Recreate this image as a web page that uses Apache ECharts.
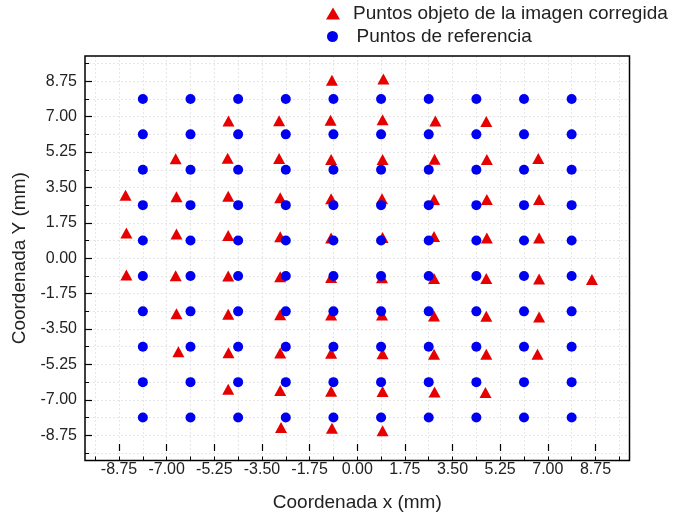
<!DOCTYPE html>
<html>
<head>
<meta charset="utf-8">
<script src="https://cdn.jsdelivr.net/npm/echarts@6/dist/echarts.min.js"></script>
<style>
html,body{margin:0;padding:0;background:#fff;}
#c{width:675px;height:517px;}
</style>
</head>
<body>
<div id="c"></div>
<script>
// ---- Data ----
const seriesNames = ['Puntos objeto de la imagen corregida', 'Puntos de referencia'];
const tickLabels = ['-8.75', '-7.00', '-5.25', '-3.50', '-1.75', '0.00', '1.75', '3.50', '5.25', '7.00', '8.75'];

// Reference points: grid columns (x) and rows (y)
const refCols = [-7.875, -6.125, -4.375, -2.625, -0.875, 0.875, 2.625, 4.375, 6.125, 7.875];
const refRows = [7.875, 6.125, 4.375, 2.625, 0.875, -0.875, -2.625, -4.375, -6.125, -7.875];

// Corrected image points (triangles)
const corrX = [
  -0.93, 0.96,
  -4.73, -2.87, -0.98, 0.93, 2.87, 4.74,
  -6.67, -4.76, -2.87, -0.96, 0.93, 2.84, 4.76, 6.65,
  -8.51, -6.64, -4.74, -2.83, -0.96, 0.91, 2.82, 4.76, 6.68,
  -8.48, -6.64, -4.74, -2.83, -0.96, 0.93, 2.82, 4.76, 6.68,
  -8.48, -6.67, -4.74, -2.83, -0.96, 0.91, 2.82, 4.74, 6.68, 8.62,
  -6.64, -4.74, -2.83, -0.96, 0.91, 2.82, 4.74, 6.68,
  -6.57, -4.73, -2.83, -0.96, 0.93, 2.82, 4.74, 6.62,
  -4.74, -2.83, -0.96, 0.93, 2.84, 4.71,
  -2.80, -0.93, 0.93
];
const corrY = [
  8.80, 8.86,
  6.78, 6.80, 6.82, 6.85, 6.78, 6.76,
  4.92, 4.95, 4.93, 4.88, 4.88, 4.90, 4.88, 4.93,
  3.11, 3.04, 3.07, 2.99, 2.94, 2.94, 2.91, 2.91, 2.91,
  1.25, 1.20, 1.13, 1.06, 1.00, 1.03, 1.08, 1.00, 1.00,
  -0.83, -0.86, -0.88, -0.91, -0.95, -0.96, -1.00, -1.00, -1.03, -1.05,
  -2.74, -2.77, -2.79, -2.81, -2.81, -2.86, -2.87, -2.91,
  -4.62, -4.67, -4.69, -4.70, -4.72, -4.75, -4.75, -4.75,
  -6.48, -6.54, -6.58, -6.59, -6.61, -6.64,
  -8.37, -8.40, -8.53
];

// ---- Build series data ----
const corrData = corrX.map((x, i) => [x, corrY[i]]);
const refData = [];
refRows.forEach(y => refCols.forEach(x => refData.push([x, y])));

// ---- Layout ----
const L = 85, T = 56, W = 544.5, H = 404.5;
const AX_MIN = -10, AX_MAX = 10;
const pxX = W / (AX_MAX - AX_MIN), pxY = H / (AX_MAX - AX_MIN);
const MINOR_EDGE = 9.625, MAJOR_EDGE = 8.75;
const font = 'Liberation Sans, Arial, Helvetica, sans-serif';
const gridLine = { show: true, lineStyle: { color: '#e6e6e6', width: 1, type: [2, 2] } };

const grids = [
  { left: L, top: T, width: W, height: H, show: true, borderColor: '#000', borderWidth: 1.5, backgroundColor: 'transparent', z: 3 },
  { left: L + (AX_MAX - MINOR_EDGE) * pxX, top: T, width: 2 * MINOR_EDGE * pxX, height: H },
  { left: L + (AX_MAX - MAJOR_EDGE) * pxX, top: T, width: 2 * MAJOR_EDGE * pxX, height: H },
  { left: L, top: T + (AX_MAX - MINOR_EDGE) * pxY, width: W, height: 2 * MINOR_EDGE * pxY },
  { left: L, top: T + (AX_MAX - MAJOR_EDGE) * pxY, width: W, height: 2 * MAJOR_EDGE * pxY }
];
const hidden = (g) => ({ type: 'value', gridIndex: g, min: 0, max: 1, show: false });
const labelFmt = (v) => { const i = Math.round((v + MAJOR_EDGE) / 1.75); return tickLabels[i] !== undefined ? tickLabels[i] : ''; };

const xAxes = [
  { type: 'value', gridIndex: 0, min: AX_MIN, max: AX_MAX, show: false },
  { type: 'value', gridIndex: 1, min: -MINOR_EDGE, max: MINOR_EDGE, interval: 0.875,
    axisLine: { show: false, onZero: false }, axisTick: { show: true, inside: true, length: 4, lineStyle: { color: '#000', width: 1 } },
    axisLabel: { show: false }, splitLine: gridLine },
  { type: 'value', gridIndex: 2, min: -MAJOR_EDGE, max: MAJOR_EDGE, interval: 1.75,
    axisLine: { show: false, onZero: false }, axisTick: { show: true, inside: true, length: 7, lineStyle: { color: '#000', width: 1.2 } },
    axisLabel: { show: true, margin: 11, fontSize: 16, color: '#222', fontFamily: font, formatter: labelFmt },
    splitLine: { show: false },
    name: 'Coordenada x (mm)', nameLocation: 'middle', nameGap: 42,
    nameTextStyle: { fontSize: 19, color: '#222', fontFamily: font } },
  hidden(3), hidden(4)
];
const yAxes = [
  { type: 'value', gridIndex: 0, min: AX_MIN, max: AX_MAX, show: false },
  hidden(1), hidden(2),
  { type: 'value', gridIndex: 3, min: -MINOR_EDGE, max: MINOR_EDGE, interval: 0.875,
    axisLine: { show: false, onZero: false }, axisTick: { show: true, inside: true, length: 4, lineStyle: { color: '#000', width: 1 } },
    axisLabel: { show: false }, splitLine: gridLine },
  { type: 'value', gridIndex: 4, min: -MAJOR_EDGE, max: MAJOR_EDGE, interval: 1.75,
    axisLine: { show: false, onZero: false }, axisTick: { show: true, inside: true, length: 7, lineStyle: { color: '#000', width: 1.2 } },
    axisLabel: { show: true, margin: 8, fontSize: 16, color: '#222', fontFamily: font, formatter: labelFmt },
    splitLine: { show: false },
    name: 'Coordenada Y (mm)', nameLocation: 'middle', nameGap: 49,
    nameTextStyle: { fontSize: 19, color: '#222', fontFamily: font } }
];

const chart = echarts.init(document.getElementById('c'), null, { renderer: 'canvas' });
chart.setOption({
  animation: false,
  backgroundColor: '#fff',
  grid: grids,
  xAxis: xAxes,
  yAxis: yAxes,
  legend: [
    { data: [{ name: seriesNames[0], icon: 'triangle' }], left: 326, top: 4, orient: 'vertical',
      itemWidth: 14, itemHeight: 12, padding: 0,
      textStyle: { fontSize: 19, color: '#222', fontFamily: font, padding: [0, 0, 0, 8] } },
    { data: [{ name: seriesNames[1], icon: 'circle' }], left: 327, top: 27, orient: 'vertical',
      itemWidth: 12, itemHeight: 11, padding: 0,
      textStyle: { fontSize: 19, color: '#222', fontFamily: font, padding: [0, 0, 0, 13] } }
  ],
  series: [
    { name: seriesNames[0], type: 'scatter', xAxisIndex: 0, yAxisIndex: 0, symbol: 'triangle', symbolSize: [12, 11],
      itemStyle: { color: '#e60000', opacity: 1 }, data: corrData, z: 2 },
    { name: seriesNames[1], type: 'scatter', xAxisIndex: 0, yAxisIndex: 0, symbol: 'circle', symbolSize: 10,
      itemStyle: { color: '#0000f0', opacity: 1 }, data: refData, z: 3 }
  ]
});
</script>
</body>
</html>
